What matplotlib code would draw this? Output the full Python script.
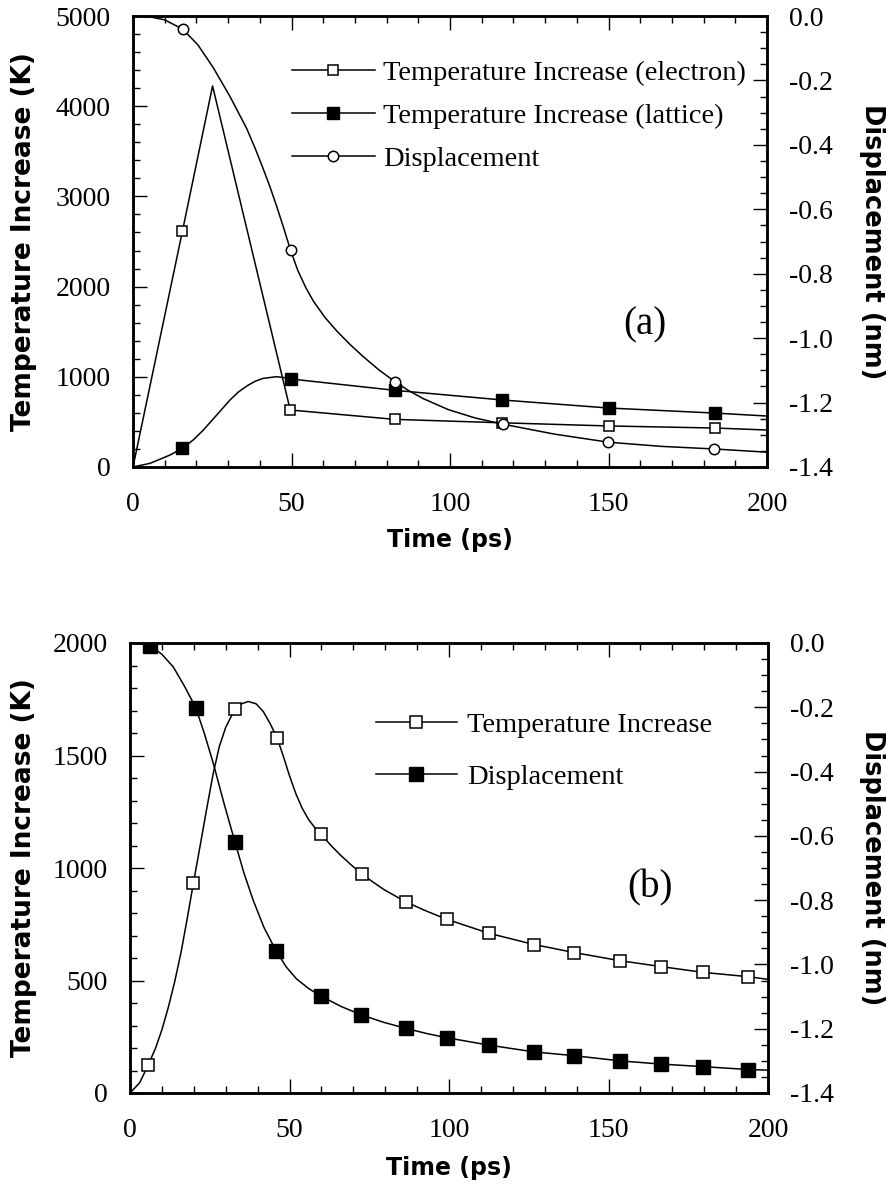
import matplotlib
matplotlib.use("Agg")
import matplotlib.pyplot as plt
from matplotlib.ticker import MultipleLocator, FuncFormatter

plt.rcParams['axes.unicode_minus'] = False

# ---------------- Panel (a) data ----------------
elec_a_t = [0, 15.6, 25.1, 49.6, 82.6, 116.5, 150, 183.5, 200]
elec_a_T = [0, 2616, 4224, 632, 528, 490, 455, 432, 410]
elec_a_marks = [1, 3, 4, 5, 6, 7]

latt_a_t = [0, 5.4, 11.7, 15.6, 19, 22.2, 26.4, 30.6, 33.2, 35.9, 38.5, 41.1, 45.3, 47.5, 49.7,
            82.6, 116.5, 150, 183.5, 200]
latt_a_T = [0, 41, 133, 207, 300, 410, 576, 743, 830, 898, 950, 983, 1001, 992, 976,
            850, 743, 654, 598, 565]
latt_a_marks = [3, 14, 15, 16, 17, 18]

disp_a_t = [0, 5, 10, 15.7, 20.5, 25.3, 30.6, 35.9, 38.5, 41.1, 43.2, 45.3, 47.5, 49.7, 52, 54.5,
            56.9, 60.5, 64.3, 68.5, 72.7, 77.5, 82.6, 87, 91.6, 99.5, 108, 116.7, 133, 150, 166.7,
            183.3, 200]
disp_a_d = [0, -0.002, -0.012, -0.041, -0.09, -0.16, -0.25, -0.35, -0.41, -0.475, -0.53, -0.59,
            -0.657, -0.727, -0.79, -0.843, -0.885, -0.935, -0.978, -1.020, -1.058, -1.098, -1.135,
            -1.163, -1.188, -1.222, -1.248, -1.267, -1.298, -1.323, -1.336, -1.344, -1.354]
disp_a_marks = [3, 13, 22, 27, 29, 31]

labels_a = ["Temperature Increase (electron)", "Temperature Increase (lattice)", "Displacement"]

# ---------------- Panel (b) data ----------------
temp_b_t = [0, 3, 5.7, 8, 10, 12, 14, 16, 18, 19.9, 22, 24, 26.1, 28, 30, 32.9, 35, 37.1, 39.5,
            41.8, 44, 46.1, 48, 50, 52, 54, 56, 58, 59.8, 63, 66, 69, 72.7, 79.5, 86.5, 93, 99.3,
            112.5, 126.6, 139.3, 153.6, 166.4, 179.7, 193.8, 200]
temp_b_T = [0, 45, 124, 199, 281, 380, 494, 625, 780, 935, 1100, 1260, 1421, 1540, 1625, 1707,
            1730, 1740, 1730, 1695, 1640, 1578, 1500, 1410, 1330, 1265, 1215, 1178, 1151, 1100,
            1057, 1018, 972, 905, 849, 808, 772, 710, 660, 624, 588, 562, 536, 517, 505]
temp_b_marks = [2, 9, 15, 21, 28, 32, 34, 36, 37, 38, 39, 40, 41, 42, 43]

disp_b_t = [0, 3, 6.3, 10, 13.6, 17, 20.6, 23.3, 26.1, 29.5, 32.9, 35.7, 38.6, 42, 45.8, 49,
            52.2, 56, 59.8, 66, 72.5, 79.5, 86.5, 93, 99.3, 112.5, 126.6, 139.3, 153.6, 166.4,
            179.7, 193.8, 200]
disp_b_d = [0, -0.002, -0.009, -0.035, -0.075, -0.133, -0.201, -0.281, -0.374, -0.50, -0.619,
            -0.715, -0.80, -0.885, -0.958, -1.008, -1.045, -1.075, -1.098, -1.13, -1.157, -1.18,
            -1.199, -1.215, -1.228, -1.251, -1.272, -1.284, -1.300, -1.310, -1.318, -1.327, -1.329]
disp_b_marks = [2, 6, 10, 14, 18, 20, 22, 24, 25, 26, 27, 28, 29, 30, 31]

labels_b = ["Temperature Increase", "Displacement"]

xticks = [0, 50, 100, 150, 200]

# ---------------- Styling ----------------
SERIF = "Liberation Serif"
LABEL_X = dict(family="DejaVu Sans", weight="bold", size=17)
LABEL_YL = dict(family="DejaVu Sans", weight="bold", size=19)
LABEL_YR = dict(family="DejaVu Sans", weight="bold", size=18.5)
TICK_SIZE = 20
LEG_SIZE = 20.5
LW = 1.1

fig = plt.figure(figsize=(8.86, 11.85), dpi=100)


def right_fmt(v, pos):
    s = f"{v:.1f}"
    return "0.0" if s == "-0.0" else s


def style_axes(ax, ax2, ymax, ymaj, ymin_minor):
    ax.set_xlim(0, 200)
    ax.set_ylim(0, ymax)
    ax2.set_ylim(-1.4, 0)
    ax.xaxis.set_major_locator(MultipleLocator(50))
    ax.xaxis.set_minor_locator(MultipleLocator(10))
    ax.yaxis.set_major_locator(MultipleLocator(ymaj))
    ax.yaxis.set_minor_locator(MultipleLocator(ymin_minor))
    ax2.yaxis.set_major_locator(MultipleLocator(0.2))
    ax2.yaxis.set_minor_locator(MultipleLocator(0.05))
    ax2.yaxis.set_major_formatter(FuncFormatter(right_fmt))
    ax.tick_params(which='both', direction='in', top=True, right=False, width=1.0)
    ax.tick_params(which='major', length=10)
    ax.tick_params(which='minor', length=5)
    ax.tick_params(axis='y', pad=16)
    ax.tick_params(axis='x', pad=18)
    ax2.tick_params(which='both', direction='in', width=1.0, pad=16)
    ax2.tick_params(which='major', length=10)
    ax2.tick_params(which='minor', length=5)
    for a in (ax, ax2):
        for sp in a.spines.values():
            sp.set_linewidth(1.8)
        for lab in a.get_xticklabels() + a.get_yticklabels():
            lab.set_fontfamily(SERIF)
            lab.set_fontsize(TICK_SIZE)
    ax.set_xticks(xticks)
    ax.set_xticklabels([str(x) for x in xticks], fontfamily=SERIF, fontsize=TICK_SIZE)


# ---------------- Panel (a) ----------------
axa = fig.add_axes([133/886, 1 - 467/1185, 634/886, 451/1185])
axa2 = axa.twinx()

l1, = axa.plot(elec_a_t, elec_a_T, color='black', lw=LW, marker='s', markevery=elec_a_marks,
               markersize=7.5, markerfacecolor='white', markeredgecolor='black', markeredgewidth=1.1)
l2, = axa.plot(latt_a_t, latt_a_T, color='black', lw=LW, marker='s', markevery=latt_a_marks,
               markersize=9, markerfacecolor='black', markeredgecolor='black')
l3, = axa2.plot(disp_a_t, disp_a_d, color='black', lw=LW, marker='o', markevery=disp_a_marks,
                markersize=7.5, markerfacecolor='white', markeredgecolor='black', markeredgewidth=1.1)

style_axes(axa, axa2, 5000, 1000, 200)
axa.set_xlabel("Time (ps)", va='center', **LABEL_X)
axa.xaxis.set_label_coords(0.5, -73/451)
axa.set_ylabel("Temperature Increase (K)", va='center', **LABEL_YL)
axa.yaxis.set_label_coords(-109/634, 0.5)
axa2.set_ylabel("Displacement (nm)", va='center', rotation=-90, **LABEL_YR)
axa2.yaxis.set_label_coords(739/634, 0.5)

axa2.legend([l1, l2, l3], labels_a, loc='upper left', bbox_to_anchor=((292-133)/634, 1 - (60-16)/451),
            frameon=False, prop=dict(family=SERIF, size=LEG_SIZE), handlelength=2.91,
            handletextpad=0.28, labelspacing=0.60, borderaxespad=0, borderpad=0, numpoints=1)
axa2.text((645-133)/634, 1 - (325-16)/451, "(a)", transform=axa2.transAxes, ha='center', va='center',
          fontfamily=SERIF, fontsize=28)

# ---------------- Panel (b) ----------------
axb = fig.add_axes([130/886, 1 - 1093/1185, 638/886, 450/1185])
axb2 = axb.twinx()

m1, = axb.plot(temp_b_t, temp_b_T, color='black', lw=LW, marker='s', markevery=temp_b_marks,
               markersize=8, markerfacecolor='white', markeredgecolor='black', markeredgewidth=1.1)
m2, = axb2.plot(disp_b_t, disp_b_d, color='black', lw=LW, marker='s', markevery=disp_b_marks,
                markersize=9.5, markerfacecolor='black', markeredgecolor='black')

style_axes(axb, axb2, 2000, 500, 100)
axb.set_xlabel("Time (ps)", va='center', **LABEL_X)
axb.xaxis.set_label_coords(0.5, -75/450)
axb.set_ylabel("Temperature Increase (K)", va='center', **LABEL_YL)
axb.yaxis.set_label_coords(-106/638, 0.5)
axb2.set_ylabel("Displacement (nm)", va='center', rotation=-90, **LABEL_YR)
axb2.yaxis.set_label_coords(742/638, 0.5)

axb2.legend([m1, m2], labels_b, loc='upper left', bbox_to_anchor=((376-130)/638, 1 - (712-643)/450),
            frameon=False, prop=dict(family=SERIF, size=LEG_SIZE), handlelength=2.84,
            handletextpad=0.35, labelspacing=0.93, borderaxespad=0, borderpad=0, numpoints=1)
axb2.text((650-130)/638, 1 - (888-643)/450, "(b)", transform=axb2.transAxes, ha='center', va='center',
          fontfamily=SERIF, fontsize=28)

fig.savefig("out.png", dpi=100)
